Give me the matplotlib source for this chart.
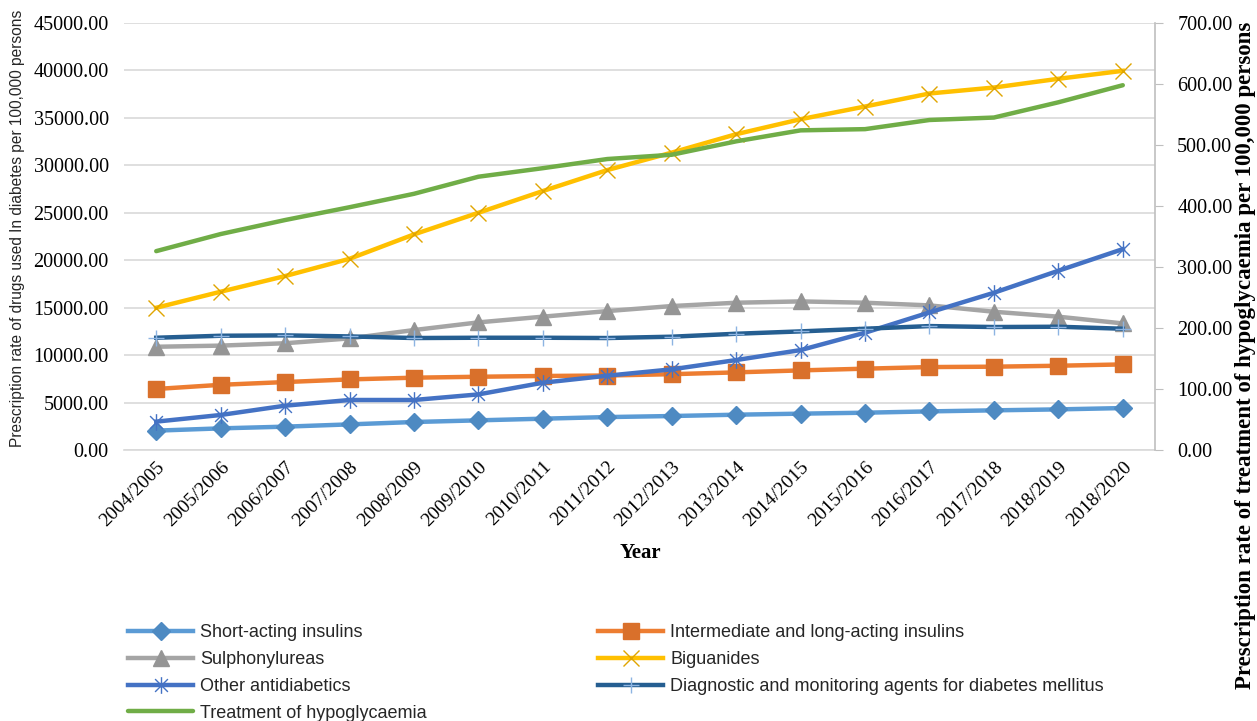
import numpy as np
import matplotlib
matplotlib.use("Agg")
import matplotlib.pyplot as plt
from matplotlib.path import Path
from matplotlib.ticker import FormatStrFormatter, MultipleLocator

# ---- data ----
years = ["2004/2005", "2005/2006", "2006/2007", "2007/2008", "2008/2009",
         "2009/2010", "2010/2011", "2011/2012", "2012/2013", "2013/2014",
         "2014/2015", "2015/2016", "2016/2017", "2017/2018", "2018/2019",
         "2018/2020"]

short_acting = [2040, 2280, 2460, 2700, 2950, 3125, 3300, 3470, 3580, 3720,
                3830, 3930, 4070, 4180, 4280, 4420]
intermediate = [6430, 6870, 7160, 7440, 7620, 7720, 7800, 7850, 7990, 8180,
                8390, 8570, 8740, 8780, 8880, 9020]
sulphonylureas = [10880, 11000, 11250, 11760, 12640, 13450, 14050, 14640,
                  15170, 15520, 15660, 15520, 15240, 14570, 14050, 13340]
biguanides = [14990, 16680, 18330, 20150, 22720, 25000, 27290, 29500, 31340,
              33280, 34860, 36200, 37570, 38200, 39120, 39960]
other_antidiabetics = [2990, 3690, 4670, 5270, 5270, 5860, 7090, 7830, 8500,
                       9480, 10530, 12360, 14500, 16570, 18890, 21170]
diagnostic = [11830, 12040, 12080, 11970, 11800, 11830, 11830, 11800, 11940,
              12250, 12500, 12780, 13060, 12960, 12990, 12780]
# right axis
hypoglycaemia = [326, 354, 377, 398, 420, 448, 462, 477, 484, 506, 524, 526,
                 541, 545, 570, 598]

x = np.arange(len(years))

serif = ["Liberation Serif", "DejaVu Serif"]
sans = ["Liberation Sans", "DejaVu Sans"]

# excel-style asterisk: an x with a vertical bar through it
star = Path([(-1, -1), (1, 1), (-1, 1), (1, -1), (0, -1.3), (0, 1.3)],
            [Path.MOVETO, Path.LINETO] * 3)

fig = plt.figure(figsize=(12.57, 7.21), dpi=100)
ax = fig.add_axes([124 / 1257, 1 - 450 / 721, (1155 - 124) / 1257, 427 / 721])
ax2 = ax.twinx()

lw = 3.2
h_short, = ax.plot(x, short_acting, color="#5B9BD5", lw=lw, marker="D", ms=9,
                   mfc="#4E8AC2", mec="#4E8AC2", label="Short-acting insulins")
h_inter, = ax.plot(x, intermediate, color="#ED7D31", lw=lw, marker="s", ms=11,
                   mfc="#D9702B", mec="#D9702B",
                   label="Intermediate and long-acting insulins")
h_sulph, = ax.plot(x, sulphonylureas, color="#A5A5A5", lw=lw, marker="^", ms=11,
                   mfc="#959595", mec="#959595", label="Sulphonylureas")
h_big, = ax.plot(x, biguanides, color="#FFC000", lw=lw, marker="x", ms=11,
                 mew=1.0, mec="#E0A500", label="Biguanides")
h_other, = ax.plot(x, other_antidiabetics, color="#4472C4", lw=lw,
                   marker=star, ms=12, mew=1.0, mec="#4472C4",
                   label="Other antidiabetics")
h_diag, = ax.plot(x, diagnostic, color="#255E91", lw=lw, marker="+", ms=12,
                  mew=1.0, mec="#8DB4E2",
                  label="Diagnostic and monitoring agents for diabetes mellitus")
h_hypo, = ax2.plot(x, hypoglycaemia, color="#70AD47", lw=lw,
                   solid_capstyle="round", label="Treatment of hypoglycaemia")

# left axis
ax.set_xlim(-0.5, len(years) - 0.5)
ax.set_ylim(0, 45000)
ax.yaxis.set_major_locator(MultipleLocator(5000))
ax.yaxis.set_major_formatter(FormatStrFormatter("%.2f"))
ax.grid(axis="y", color="#D9D9D9", lw=1.2)
ax.set_axisbelow(True)
for s in ["top", "left", "right"]:
    ax.spines[s].set_visible(False)
ax.spines["bottom"].set_color("#D9D9D9")
ax.spines["bottom"].set_linewidth(1.2)
ax.tick_params(axis="y", length=0, pad=11)
ax.tick_params(axis="x", length=0, pad=6)
ax.set_xticks(x)
ax.set_xticklabels(years, rotation=45, ha="right", rotation_mode="anchor")
for lab in ax.get_xticklabels():
    lab.set_fontfamily(serif)
    lab.set_fontsize(14)
for lab in ax.get_yticklabels():
    lab.set_fontfamily(serif)
    lab.set_fontsize(14.5)

# right axis
ax2.set_ylim(0, 700)
ax2.yaxis.set_major_locator(MultipleLocator(100))
ax2.yaxis.set_major_formatter(FormatStrFormatter("%.2f"))
for s in ["top", "left", "bottom"]:
    ax2.spines[s].set_visible(False)
ax2.spines["right"].set_color("#BFBFBF")
ax2.spines["right"].set_linewidth(1.2)
ax2.tick_params(axis="y", length=6, color="#BFBFBF", pad=10)
for lab in ax2.get_yticklabels():
    lab.set_fontfamily(serif)
    lab.set_fontsize(14.5)

# axis titles
fig.text(18 / 1257, 1 - 228 / 721,
         "Prescription rate of drugs used In diabetes per 100,000 persons",
         rotation=90, ha="center", va="center", fontsize=11.2, family=sans,
         color="#262626")
fig.text(1245 / 1257, 1 - 355 / 721,
         "Prescription rate of treatment of hypoglycaemia per 100,000 persons",
         rotation=90, ha="center", va="center", fontsize=16.5, family=serif,
         fontweight="bold")
fig.text(640 / 1257, 1 - 553 / 721, "Year", ha="center", va="center",
         fontsize=15, family=serif, fontweight="bold")

# legend in two columns, filled row by row like the original
leg_kw = dict(frameon=False, handlelength=3.6, handletextpad=0.4,
              labelspacing=0.55, borderaxespad=0, borderpad=0,
              prop={"family": sans, "size": 13})
leg1 = fig.legend(handles=[h_short, h_sulph, h_other, h_hypo],
                  loc="upper left", bbox_to_anchor=(128 / 1257, 1 - 624 / 721),
                  **leg_kw)
leg2 = fig.legend(handles=[h_inter, h_big, h_diag],
                  loc="upper left", bbox_to_anchor=(598 / 1257, 1 - 624 / 721),
                  **leg_kw)
for leg in (leg1, leg2):
    for t in leg.get_texts():
        t.set_color("#262626")

fig.savefig("out.png", dpi=100)
